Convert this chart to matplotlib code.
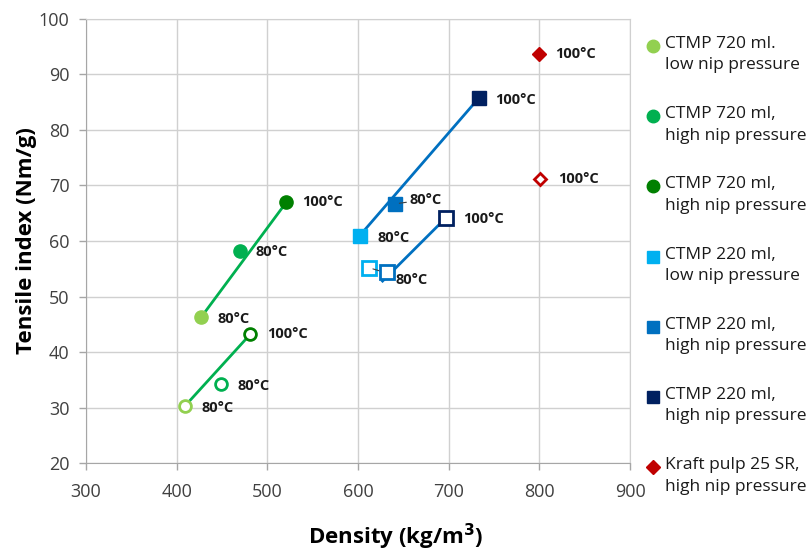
import matplotlib.pyplot as plt
from matplotlib.lines import Line2D

plt.rcParams['font.family'] = ['Open Sans', 'DejaVu Sans']

# filled markers = one pulp / nip setting, open markers = same setting other run
series_names = ["CTMP 720 ml.\nlow nip pressure", "CTMP 720 ml,\nhigh nip pressure",
                "CTMP 720 ml,\nhigh nip pressure", "CTMP 220 ml,\nlow nip pressure",
                "CTMP 220 ml,\nhigh nip pressure", "CTMP 220 ml,\nhigh nip pressure",
                "Kraft pulp 25 SR,\nhigh nip pressure"]
series_colors = ["#92D050", "#00B050", "#008000", "#00B0F0", "#0070C0", "#002060", "#C00000"]
series_markers = ["o", "o", "o", "s", "s", "s", "D"]

filled_density = [427, 470, 521, 602, 641, 733, 799]
filled_tensile = [46.3, 58.2, 67.0, 61.0, 66.7, 85.7, 93.7]
filled_labels = ["80°C", "80°C", "100°C", "80°C", "80°C", "100°C", "100°C"]

open_density = [409, 449, 481, 612, 632, 697, 801]
open_tensile = [30.3, 34.2, 43.2, 55.2, 54.5, 64.2, 71.2]
open_labels = ["80°C", "80°C", "100°C", "80°C", "", "100°C", "100°C"]

# connecting lines (start, end)
green_fill_line = ([427, 521], [46.3, 67.0])
green_open_line = ([409, 481], [30.3, 43.2])
blue_fill_line = ([602, 733], [61.0, 85.7])
blue_open_line = ([627, 697], [52.8, 64.2])

# label offsets in points
filled_offsets = [(12, -1), (11, -1), (11, 0), (13, -2), (10, 3), (12, -1), (12, 0)]
open_offsets = [(12, -1), (12, -1), (12, 0), (19, -9), (0, 0), (12, -1), (13, 0)]
leader = [False, False, False, False, True, False, False]
open_leader = [False, False, False, True, False, False, False]

fig = plt.figure(figsize=(8.11, 5.51), dpi=100)
ax = fig.add_axes([0.106, 0.159, 0.671, 0.807])

for xs, ys, c in [(green_fill_line[0], green_fill_line[1], "#00B050"),
                  (green_open_line[0], green_open_line[1], "#00B050"),
                  (blue_fill_line[0], blue_fill_line[1], "#0070C0"),
                  (blue_open_line[0], blue_open_line[1], "#0070C0")]:
    ax.plot(xs, ys, color=c, lw=2, zorder=2)

lead = dict(arrowstyle="-", color="#404040", lw=0.8, shrinkA=0, shrinkB=3)
for i in range(len(series_names)):
    m = series_markers[i]
    ms = {"o": 9.5, "s": 10.5, "D": 7.5}[m]
    ax.plot(filled_density[i], filled_tensile[i], marker=m, ms=ms,
            color=series_colors[i], mec=series_colors[i], ls="", zorder=3)
    ax.plot(open_density[i], open_tensile[i], marker=m, ms=ms - 1,
            mfc="white", mec=series_colors[i], mew=2, ls="", zorder=3)
    ax.annotate(filled_labels[i], (filled_density[i], filled_tensile[i]),
                xytext=filled_offsets[i], textcoords="offset points",
                fontsize=10.5, fontweight="bold", va="center", color="#1a1a1a",
                arrowprops=lead if leader[i] else None)
    if open_labels[i]:
        ax.annotate(open_labels[i], (open_density[i], open_tensile[i]),
                    xytext=open_offsets[i], textcoords="offset points",
                    fontsize=10.5, fontweight="bold", va="center", color="#1a1a1a",
                    arrowprops=lead if open_leader[i] else None)

ax.set_xlim(300, 900)
ax.set_ylim(20, 100)
ax.set_xticks(range(300, 901, 100))
ax.set_yticks(range(20, 101, 10))
ax.grid(True, color="#D0D0D0", lw=1)
ax.set_axisbelow(True)
for s in ax.spines.values():
    s.set_color("#D0D0D0")
ax.spines["left"].set_color("#A6A6A6")
ax.spines["bottom"].set_color("#A6A6A6")
ax.tick_params(length=5, width=1, color="#A6A6A6", labelsize=13, labelcolor="#404040")
ax.tick_params(axis="x", pad=9)
ax.tick_params(axis="y", pad=7)
ax.set_xlabel("Density (kg/m$^\\mathbf{3}$)", fontsize=16, fontweight="bold")
ax.xaxis.label.set_verticalalignment("baseline")
ax.xaxis.set_label_coords(0.570, -0.181)
ax.set_ylabel("Tensile index (Nm/g)", fontsize=16, fontweight="bold", labelpad=1)

# legend drawn in figure coordinates
W, H = 811, 551
for i in range(len(series_names)):
    y = 46 + i * 70.2
    ms = 7 if series_markers[i] == "D" else 9
    fig.add_artist(Line2D([653 / W], [1 - y / H], marker=series_markers[i], ms=ms,
                          color=series_colors[i], ls=""))
    fig.text(665 / W, 1 - (y - 10) / H, series_names[i], fontsize=12.5, va="top",
             ha="left", linespacing=1.45, color="#1a1a1a")

fig.savefig("out.png", dpi=100)
